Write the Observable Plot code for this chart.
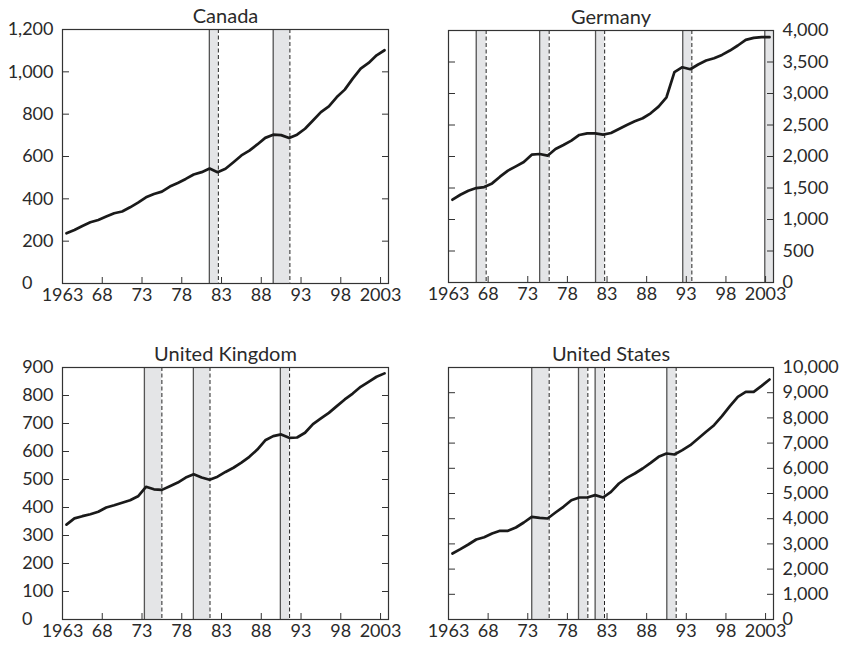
<!DOCTYPE html>
<html><head><meta charset="utf-8">
<script src="https://cdn.jsdelivr.net/npm/d3@7"></script>
<script src="https://cdn.jsdelivr.net/npm/@observablehq/plot@0.6"></script>
<style>
body{margin:0;background:#fff;}
#wrap{position:relative;width:851px;height:646px;overflow:hidden;}
.panel{position:absolute;}
.panel svg{overflow:visible;}
</style></head><body><div id="wrap"></div>
<script>
const years = [1963,1964,1965,1966,1967,1968,1969,1970,1971,1972,1973,1974,1975,1976,1977,1978,1979,1980,1981,1982,1983,1984,1985,1986,1987,1988,1989,1990,1991,1992,1993,1994,1995,1996,1997,1998,1999,2000,2001,2002,2003];
const canada = [237,253,272,289,300,316,332,340,360,382,407,423,434,458,475,494,515,526,543,526,542,573,605,628,657,688,703,701,687,703,731,770,810,837,881,916,968,1015,1042,1078,1102];
const germany = [1314,1393,1457,1499,1515,1573,1680,1775,1844,1913,2029,2040,2013,2119,2183,2252,2342,2368,2368,2347,2373,2437,2501,2559,2607,2686,2792,2940,3338,3417,3385,3460,3523,3560,3613,3682,3762,3852,3883,3894,3894];
const uk = [339,361,369,376,385,400,408,417,426,440,474,465,463,476,489,507,519,507,499,510,527,542,560,581,607,640,655,661,649,650,667,698,718,738,762,786,807,831,849,867,879];
const us = [2619,2791,2976,3175,3267,3413,3519,3519,3651,3849,4074,4034,4008,4246,4471,4735,4841,4841,4934,4841,5066,5397,5622,5794,5992,6217,6455,6587,6548,6720,6918,7183,7447,7712,8069,8466,8836,9034,9034,9272,9524];

// recession bands: start (solid line) and end (dashed line), in fractional years
const canadaStart = [1981.47, 1989.5];
const canadaEnd   = [1982.6, 1991.6];
const germanyStart = [1966.5, 1974.5, 1981.55, 1992.55, 2002.9];
const germanyEnd   = [1967.75, 1975.7, 1982.7, 1993.7, 2004];
const ukStart = [1973.3, 1979.46, 1990.4];
const ukEnd   = [1975.5, 1981.55, 1991.56];
const usStart = [1973.5, 1979.4, 1981.5, 1990.54];
const usEnd   = [1975.7, 1980.58, 1982.68, 1991.72];

const xTickYears = [1968,1973,1978,1983,1988,1993,1998,2003];
const xLabelYears = [1963,1968,1973,1978,1983,1988,1993,1998,2003];
const xLabelText = ["1963","68","73","78","83","88","93","98","2003"];

const canadaTicks = [0,200,400,600,800,1000,1200];
const germanyTicks = [0,500,1000,1500,2000,2500,3000,3500,4000];
const ukTicks = [0,100,200,300,400,500,600,700,800,900];
const usTicks = [0,1000,2000,3000,4000,5000,6000,7000,8000,9000,10000];

const FONT = "Lato, 'Open Sans', sans-serif";
const TXT = "#2a2a2a";

function panel({title, values, starts, ends, yMax, yTicks, side, left, top, mL, mR, mT, mB}) {
  const data = years.map((y, i) => ({year: y + 0.5, value: values[i]}));
  const bands = starts.map((s, i) => ({start: s, end: ends[i]}));
  const fmt = d3.format(",");
  const marks = [
    Plot.rect(bands, {x1: "start", x2: "end", fill: "#e4e5e7"}),
    Plot.ruleX(bands, {x: "start", stroke: "#555", strokeWidth: 1.3}),
    Plot.ruleX(bands.filter(d => d.end < 2004), {x: "end", stroke: "#222", strokeWidth: 1, strokeDasharray: "4,2.5"}),
    Plot.line(data, {x: "year", y: "value", stroke: "#1a1a1a", strokeWidth: 2.7, strokeLinejoin: "round"}),
    Plot.frame({stroke: "#333", strokeWidth: 1.2}),
    Plot.axisX(xTickYears, {anchor: "bottom", tickSize: 6, dy: -6, tickFormat: () => "", stroke: "#333", label: null}),
    Plot.axisX(xLabelYears, {anchor: "bottom", tickSize: 0, tickPadding: 5, tickFormat: (d) => xLabelText[xLabelYears.indexOf(d)], fill: TXT, label: null}),
    Plot.axisY(yTicks, {anchor: "left", tickSize: 7, dx: 7, tickFormat: () => "", stroke: "#333", label: null}),
    Plot.axisY(yTicks, {anchor: "right", tickSize: 7, dx: -7, tickFormat: () => "", stroke: "#333", label: null}),
    Plot.axisY(side === "left" ? yTicks.filter(v => v !== 0) : yTicks, {anchor: side, tickSize: 0, tickPadding: 9, tickFormat: fmt, fill: TXT, label: null}),
    Plot.text([title], {frameAnchor: "top", dy: -7, lineAnchor: "bottom", fill: TXT, fontSize: 20})
  ];
  if (side === "left") {
    marks.push(Plot.axisY([0], {anchor: "left", tickSize: 0, tickPadding: 9, dx: -21, tickFormat: fmt, fill: TXT, label: null}));
  }
  const w = side === "left" ? 425 : 426;
  const chart = Plot.plot({
    width: w, height: 323,
    marginLeft: mL, marginRight: mR, marginTop: mT, marginBottom: mB,
    x: {domain: [1963, 2004], label: null},
    y: {domain: [0, yMax], label: null},
    style: {fontFamily: FONT, fontSize: "18px", color: TXT, background: "transparent", overflow: "visible"},
    marks
  });
  const div = document.createElement("div");
  div.className = "panel";
  div.style.left = left + "px";
  div.style.top = top + "px";
  div.appendChild(chart);
  document.getElementById("wrap").appendChild(div);
}

panel({title: "Canada", values: canada, starts: canadaStart, ends: canadaEnd, yMax: 1200, yTicks: canadaTicks, side: "left", left: 0, top: 0, mL: 62, mR: 37, mT: 29, mB: 40});
panel({title: "Germany", values: germany, starts: germanyStart, ends: germanyEnd, yMax: 4000, yTicks: germanyTicks, side: "right", left: 425, top: 0, mL: 23, mR: 78, mT: 30, mB: 41});
panel({title: "United Kingdom", values: uk, starts: ukStart, ends: ukEnd, yMax: 900, yTicks: ukTicks, side: "left", left: 0, top: 323, mL: 62, mR: 37, mT: 44, mB: 27});
panel({title: "United States", values: us, starts: usStart, ends: usEnd, yMax: 10000, yTicks: usTicks, side: "right", left: 425, top: 323, mL: 23, mR: 78, mT: 44, mB: 27});
</script>
</body></html>
